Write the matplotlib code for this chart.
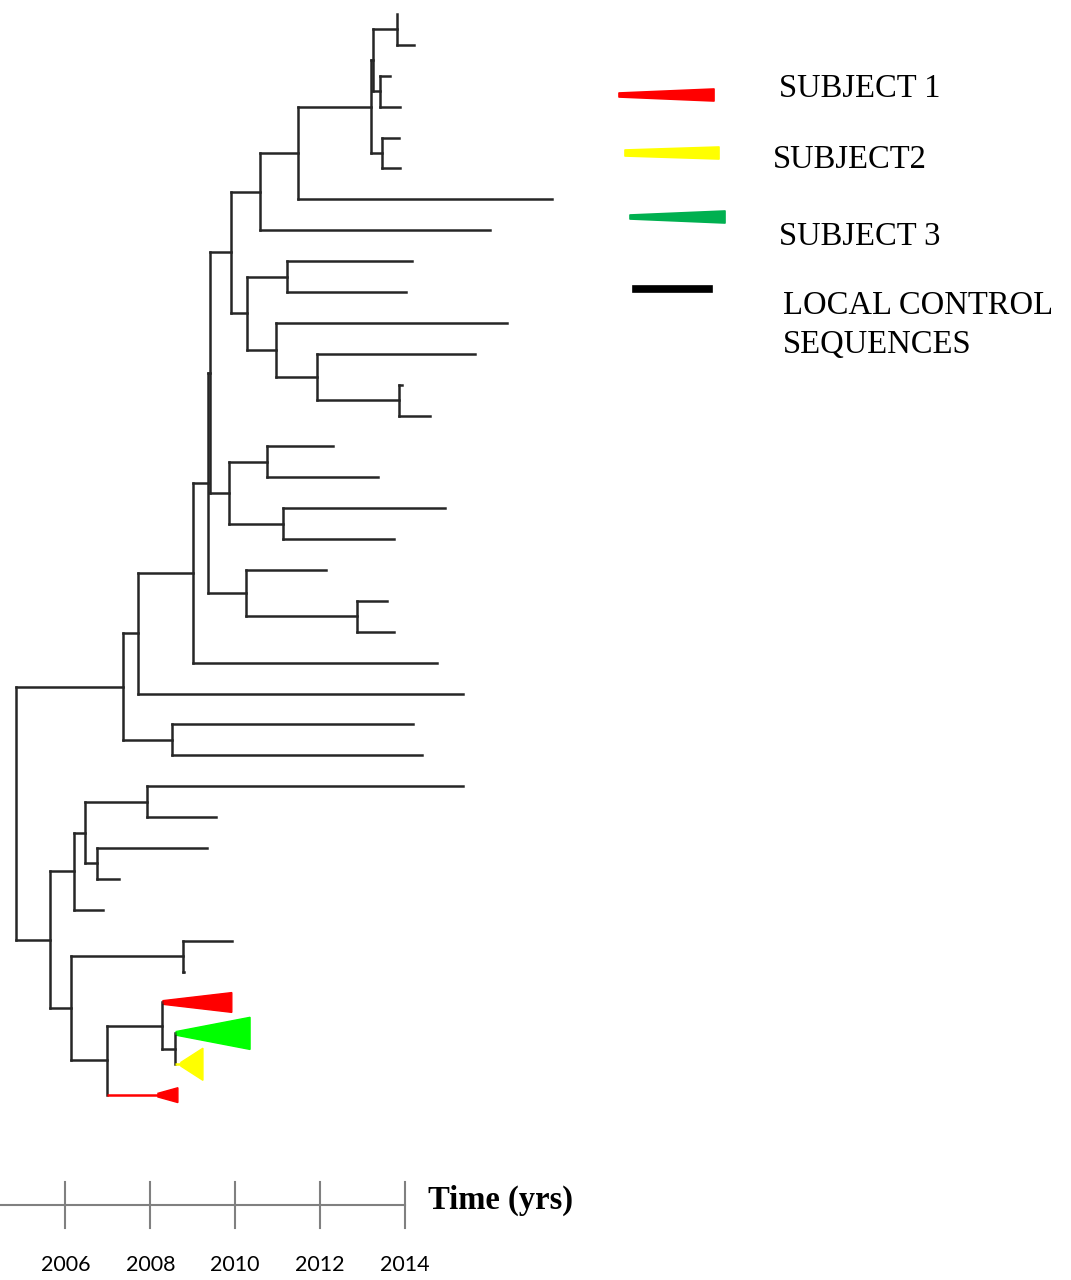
import matplotlib.pyplot as plt
from matplotlib.patches import Polygon

# tips, top to bottom, with the year where each branch ends
tip_names = ['t%d' % i for i in range(1, 33)] + ['S1a', 'S3', 'S2', 'S1b']
tip_years = [2013.81, 2014.21, 2013.65, 2013.88, 2013.86, 2013.88, 2017.46, 2016.00,
             2014.16, 2014.02, 2016.40, 2015.65, 2013.93, 2014.59,
             2012.30, 2013.36, 2014.94, 2013.74, 2012.14, 2013.58, 2013.74,
             2014.75, 2015.37, 2014.19, 2014.40,
             2015.37, 2009.55, 2009.34, 2007.26, 2006.89, 2009.92, 2008.79,
             2009.92, 2010.35, 2009.24, 2008.65]

# internal nodes (children listed before parents)
node_names = ['E', 'F', 'C', 'D', 'B', 'A', 'G', 'K', 'N', 'M', 'L', 'I', 'H',
              'R', 'S', 'Q', 'U', 'T', 'J', 'X', 'Y', 'Z', 'V', 'W',
              'M4', 'M5', 'M3', 'M1', 'M6', 'M9', 'M8', 'M7', 'M2', 'LC', 'root']
node_years = [2013.81, 2013.41, 2013.25, 2013.46, 2013.20, 2011.48, 2010.58,
              2011.22, 2013.86, 2011.93, 2010.96, 2010.28, 2009.90,
              2010.75, 2011.13, 2009.85, 2012.87, 2010.25, 2009.41, 2009.36,
              2009.01, 2007.71, 2008.51, 2007.36,
              2007.92, 2006.74, 2006.46, 2006.20, 2008.77, 2008.58, 2008.28,
              2006.98, 2006.13, 2005.64, 2004.84]
node_children = [['t1', 't2'], ['t3', 't4'], ['E', 'F'], ['t5', 't6'], ['C', 'D'],
                 ['B', 't7'], ['A', 't8'], ['t9', 't10'], ['t13', 't14'], ['t12', 'N'],
                 ['t11', 'M'], ['K', 'L'], ['G', 'I'],
                 ['t15', 't16'], ['t17', 't18'], ['R', 'S'], ['t20', 't21'], ['t19', 'U'],
                 ['H', 'Q'], ['J', 'T'], ['X', 't22'], ['Y', 't23'], ['t24', 't25'], ['Z', 'V'],
                 ['t26', 't27'], ['t28', 't29'], ['M4', 'M5'], ['M3', 't30'], ['t31', 't32'],
                 ['S3', 'S2'], ['S1a', 'M9'], ['M8', 'S1b'], ['M6', 'M7'], ['M1', 'M2'],
                 ['W', 'LC']]

# collapsed subject clades
clade_tips = ['S1a', 'S3', 'S2', 'S1b']
clade_colors = ['#ff0000', '#00ff00', '#ffff00', '#ff0000']
clade_start = [2008.30, 2008.61, 2008.72, 2008.18]
clade_halfwidth = [0.32, 0.52, 0.52, 0.24]

tick_years = [2006, 2008, 2010, 2012, 2014]

legend_labels = ['SUBJECT 1', 'SUBJECT2', 'SUBJECT 3', 'LOCAL CONTROL\nSEQUENCES']
legend_colors = ['#ff0000', '#ffff00', '#00b050', '#000000']

# layout (pixels)
W, H = 1071, 1280
px_year, x_2010 = 42.45, 235.2
row_px, row0_px = 30.89, 14
tree_color = '#262626'
lw = 1.8

fig = plt.figure(figsize=(W / 100, H / 100), dpi=100)
ax = fig.add_axes([0, 0, 1, 1])
x0 = 2010 - x_2010 / px_year
ax.set_xlim(x0, 2010 + (W - x_2010) / px_year)
ax.set_ylim((H - row0_px) / row_px, -row0_px / row_px)
ax.axis('off')

year = dict(zip(tip_names, tip_years))
year.update(zip(node_names, node_years))
ypos = {t: i for i, t in enumerate(tip_names)}
for n, kids in zip(node_names, node_children):
    ypos[n] = sum(ypos[k] for k in kids) / len(kids)

for n, kids in zip(node_names, node_children):
    ys = [ypos[k] for k in kids]
    ax.plot([year[n], year[n]], [min(ys), max(ys)], color=tree_color, lw=lw,
            solid_capstyle='projecting')
    for k in kids:
        if k in clade_tips:
            j = clade_tips.index(k)
            c = clade_colors[j]
            ax.plot([year[n], clade_start[j]], [ypos[k], ypos[k]], color=c, lw=lw,
                    solid_capstyle='butt')
            hw = clade_halfwidth[j]
            ax.add_patch(Polygon([(clade_start[j], ypos[k] - 0.06), (year[k], ypos[k] - hw),
                                  (year[k], ypos[k] + hw), (clade_start[j], ypos[k] + 0.06)],
                                 closed=True, facecolor=c, edgecolor=c, lw=1))
        else:
            ax.plot([year[n], year[k]], [ypos[k], ypos[k]], color=tree_color, lw=lw,
                    solid_capstyle='projecting')

# time scale
axis_row = (1205 - row0_px) / row_px
tick_half = 23 / row_px
label_row = (1265 - row0_px) / row_px
ax.plot([x0, tick_years[-1]], [axis_row, axis_row], color='#808080', lw=1.5)
for yr in tick_years:
    ax.plot([yr, yr], [axis_row - tick_half, axis_row + tick_half], color='#808080', lw=1.5)
    ax.text(yr, label_row, str(yr), ha='center', va='center', fontsize=15.5, family='Lato')
ax.text(2014.55, axis_row - 0.15, 'Time (yrs)', ha='left', va='center',
        fontsize=23.5, fontweight='bold', family='Liberation Serif')

# legend drawn in pixel space
lax = fig.add_axes([0, 0, 1, 1])
lax.set_xlim(0, W)
lax.set_ylim(H, 0)
lax.axis('off')
key_left = [619, 625, 630, 633]
key_right = [714, 719, 725, 712]
key_y = [95, 153, 217, 289]
key_h0 = [2, 3, 2, 3]
key_h1 = [6, 6, 6, 3]
text_x = [779, 773, 779, 783]
text_base = [97, 168, 245, 314]
for i, lab in enumerate(legend_labels):
    c = legend_colors[i]
    lax.add_patch(Polygon([(key_left[i], key_y[i] - key_h0[i]), (key_right[i], key_y[i] - key_h1[i]),
                           (key_right[i], key_y[i] + key_h1[i]), (key_left[i], key_y[i] + key_h0[i])],
                          closed=True, facecolor=c, edgecolor=c, lw=1.2,
                          joinstyle='round' if i < 3 else 'miter'))
    for k, line in enumerate(lab.split('\n')):
        lax.text(text_x[i], text_base[i] + 39 * k, line, ha='left', va='baseline',
                 fontsize=23.5, family='Liberation Serif')

fig.savefig('out.png', dpi=100)
